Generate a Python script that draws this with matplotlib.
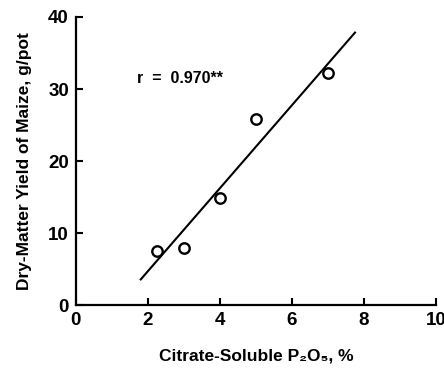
import numpy as np
import matplotlib
matplotlib.use('Agg')
import matplotlib.pyplot as plt

# data
p2o5 = [2.25, 3.0, 4.0, 5.0, 7.0]        # citrate-soluble P2O5, %
yield_dm = [7.5, 8.0, 14.9, 25.8, 32.2]   # dry-matter yield, g/pot
line_x = [1.8, 7.75]                      # extent of the regression line
r_label = 'r  =  0.970**'

plt.rcParams['font.family'] = ['Liberation Sans', 'DejaVu Sans']
plt.rcParams['font.weight'] = 'bold'

fig = plt.figure(figsize=(4.44, 3.69), dpi=100)
ax = fig.add_axes([0.171, 0.173, 0.811, 0.781])

# regression line
slope, icpt = np.polyfit(p2o5, yield_dm, 1)
lx = np.array(line_x)
ax.plot(lx, slope * lx + icpt, color='black', lw=1.5)
ax.plot(p2o5, yield_dm, 'o', mfc='white', mec='black', ms=7.5, mew=1.7)

ax.text(1.7, 31.4, r_label, fontsize=11.5, fontweight='bold', va='center')

ax.set_xlim(0, 10)
ax.set_ylim(0, 40)
ax.set_xticks([0, 2, 4, 6, 8, 10])
ax.set_yticks([0, 10, 20, 30, 40])
ax.spines['top'].set_visible(False)
ax.spines['right'].set_visible(False)
ax.spines['left'].set_linewidth(1.6)
ax.spines['bottom'].set_linewidth(1.6)
ax.tick_params(direction='in', length=5, width=1.5, labelsize=13.5, pad=5)
for lab in ax.get_xticklabels() + ax.get_yticklabels():
    lab.set_fontweight('bold')

ax.set_xlabel('Citrate-Soluble P\u2082O\u2085, %', fontsize=12.5, fontweight='bold', labelpad=14)
ax.set_ylabel('Dry-Matter Yield of Maize, g/pot', fontsize=12.5, fontweight='bold', labelpad=12)

fig.savefig('out.png', dpi=100)
